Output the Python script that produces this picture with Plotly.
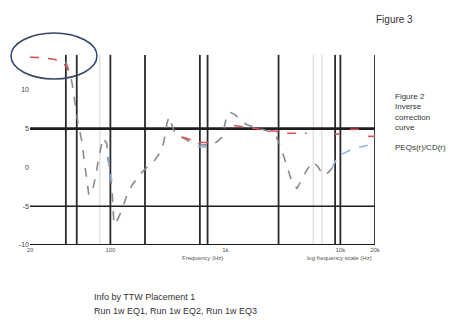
import plotly.graph_objects as go

# Frequency axis (Hz) and level axis (dB)
x_range_hz = [20, 20000]
y_range_db = [-10, 15]
x_tick_vals = [20, 100, 1000, 10000, 20000]
x_tick_text = ["20", "100", "1k", "10k", "20k"]
y_tick_vals = [-10, -5, 0, 5, 10]
y_tick_text = ["-10", "-5", "0", "5", "10"]

# Measured in-room response (dB)
meas_freq = [41, 45, 47, 49, 52, 57, 59, 63, 65, 71, 75, 78, 83, 86, 93, 95,
             99, 103, 105, 107, 110, 126, 139, 154, 181, 204, 235, 270, 292,
             311, 323, 365, 428, 492, 567, 638, 765, 845, 935, 993, 1033,
             1097, 1213, 1340, 1542, 1884, 2208, 2698, 3100, 3436, 3795, 4196,
             4636, 5129, 5783, 6385, 7060, 7800, 8452]
meas_db = [13.6, 11.9, 10.4, 8.7, 5.9, 3.1, 1.0, -2.0, -3.6, -2.5, -1.0, 0.7,
           2.5, 3.8, 3.1, 1.6, -1.0, -2.5, -5.1, -6.8, -7.4, -5.5, -3.6, -2.3,
           -0.9, -0.1, 0.6, 1.9, 3.3, 5.7, 6.5, 4.4, 3.8, 3.3, 3.1, 2.9, 2.9,
           3.3, 3.9, 5.7, 6.8, 7.1, 6.8, 6.1, 5.5, 5.1, 4.8, 4.4, 2.2, 0.1,
           -1.9, -2.7, -1.6, -0.3, 0.7, 0.1, -1.0, -0.7, -0.1]

# Response after correction (dB); None separates visible segments
corr_freq = [94, 97, 100, 103, None, 575, 640, 700, 765, None,
             8452, 8980, 9930, 12130, 13940, 17380, 20000]
corr_db = [1.4, 0.2, -1.0, -1.8, None, 2.7, 2.6, 2.6, 2.7, None,
           -0.1, 0.7, 1.6, 2.2, 2.5, 2.9, 3.1]

# Inverse correction curve (dB); None separates visible segments
inv_freq = [20, 21, 27, 33, 39, 43, None, 420, 490, 570, 640, 760, 850, None,
            1190, 1540, 1880, 2210, 2700, 3100, 5100, None, 8980, 9930, None,
            12100, 15000, 17000, None, 17400, 20000]
inv_db = [14.2, 14.2, 14.1, 13.9, 13.5, 12.5, None, 3.9, 3.6, 3.3, 3.2, 3.2,
          3.4, None, 5.4, 5.2, 5.0, 4.7, 4.7, 4.4, 4.4, None, 4.3, 4.3, None,
          4.9, 4.9, 4.9, None, 4.0, 4.0]

# Heavy and light vertical markers (Hz)
heavy_lines_hz = [41, 51, 100, 200, 600, 700, 2900, 9000, 10000, 20000]
light_lines_hz = [81, 5800, 6900]
# Horizontal reference levels (dB) and their widths
ref_levels_db = [5, -5, -10]
ref_widths = [2.6, 1.6, 2.2]

# Right-hand notes and footer text
side_notes = ["Figure 2", "Inverse", "correction", "curve"]
side_note2 = "PEQs(r)/CD(r)"
footer_lines = ["Info by TTW Placement 1", "Run 1w EQ1, Run 1w EQ2, Run 1w EQ3"]

W, H = 470, 324
L, R, T, B = 30, 95, 51, 79
PW, PH = W - L - R, H - T - B


def px(xp):
    return (xp - L) / PW


def py(yp):
    return (H - B - yp) / PH


fig = go.Figure()

line_top = 14.5
for f in light_lines_hz:
    fig.add_trace(go.Scatter(x=[f, f], y=[y_range_db[0], line_top], mode="lines",
                             line=dict(color="#d4d4d4", width=1),
                             hoverinfo="skip", showlegend=False))
for f in heavy_lines_hz:
    fig.add_trace(go.Scatter(x=[f, f], y=[y_range_db[0], line_top], mode="lines",
                             line=dict(color="#2a2a2a", width=1.8),
                             hoverinfo="skip", showlegend=False))
for lvl, w in zip(ref_levels_db, ref_widths):
    fig.add_trace(go.Scatter(x=x_range_hz, y=[lvl, lvl], mode="lines",
                             line=dict(color="#1e1e1e", width=w),
                             hoverinfo="skip", showlegend=False))

fig.add_trace(go.Scatter(x=meas_freq, y=meas_db, mode="lines",
                         line=dict(color="#8a8a8a", width=1.6, dash="dash"),
                         showlegend=False))
fig.add_trace(go.Scatter(x=corr_freq, y=corr_db, mode="lines",
                         line=dict(color="#8fb6e0", width=1.6, dash="dash"),
                         connectgaps=False, showlegend=False))
fig.add_trace(go.Scatter(x=inv_freq, y=inv_db, mode="lines",
                         line=dict(color="#d9505a", width=1.6, dash="dash"),
                         connectgaps=False, showlegend=False))

# Ellipse highlighting the low-frequency region
fig.add_shape(type="circle", xref="paper", yref="paper",
              x0=px(11), x1=px(97), y0=py(79), y1=py(33),
              line=dict(color="#33456a", width=1.5))

ann = []
ann.append(dict(text="Figure 3", x=px(374), y=py(20), xref="paper", yref="paper",
                xanchor="left", yanchor="middle", showarrow=False,
                font=dict(size=10, color="#333")))
side_y = [96, 106, 117, 127]
for t, yy in zip(side_notes, side_y):
    ann.append(dict(text=t, x=px(393), y=py(yy), xref="paper",
                    yref="paper", xanchor="left", yanchor="middle",
                    showarrow=False, font=dict(size=8, color="#333")))
ann.append(dict(text=side_note2, x=px(393), y=py(147), xref="paper", yref="paper",
                xanchor="left", yanchor="middle", showarrow=False,
                font=dict(size=8, color="#333")))
for i, t in enumerate(footer_lines):
    ann.append(dict(text=t, x=px(92), y=py(297 + 14 * i), xref="paper",
                    yref="paper", xanchor="left", yanchor="middle",
                    showarrow=False, font=dict(size=9, color="#333")))
ann.append(dict(text="Frequency (Hz)", x=px(180), y=py(258), xref="paper",
                yref="paper", xanchor="left", yanchor="middle", showarrow=False,
                font=dict(size=6, color="#555")))
ann.append(dict(text="log frequency scale (Hz)", x=px(305), y=py(258),
                xref="paper", yref="paper", xanchor="left", yanchor="middle",
                showarrow=False, font=dict(size=6, color="#555")))

fig.update_layout(
    width=W, height=H,
    margin=dict(l=L, r=R, t=T, b=B),
    paper_bgcolor="white", plot_bgcolor="white",
    font=dict(family="Liberation Sans, Arial, sans-serif"),
    annotations=ann,
    xaxis=dict(type="log", range=[1.30103, 4.30103], showgrid=False,
               zeroline=False, showline=False, tickmode="array",
               tickvals=x_tick_vals, ticktext=x_tick_text, ticks="",
               tickfont=dict(size=6, color="#555")),
    yaxis=dict(range=y_range_db, showgrid=False, zeroline=False,
               showline=False, tickmode="array", tickvals=y_tick_vals,
               ticktext=y_tick_text, ticks="",
               tickfont=dict(size=7, color="#444")),
)

fig.write_html("out.html")
